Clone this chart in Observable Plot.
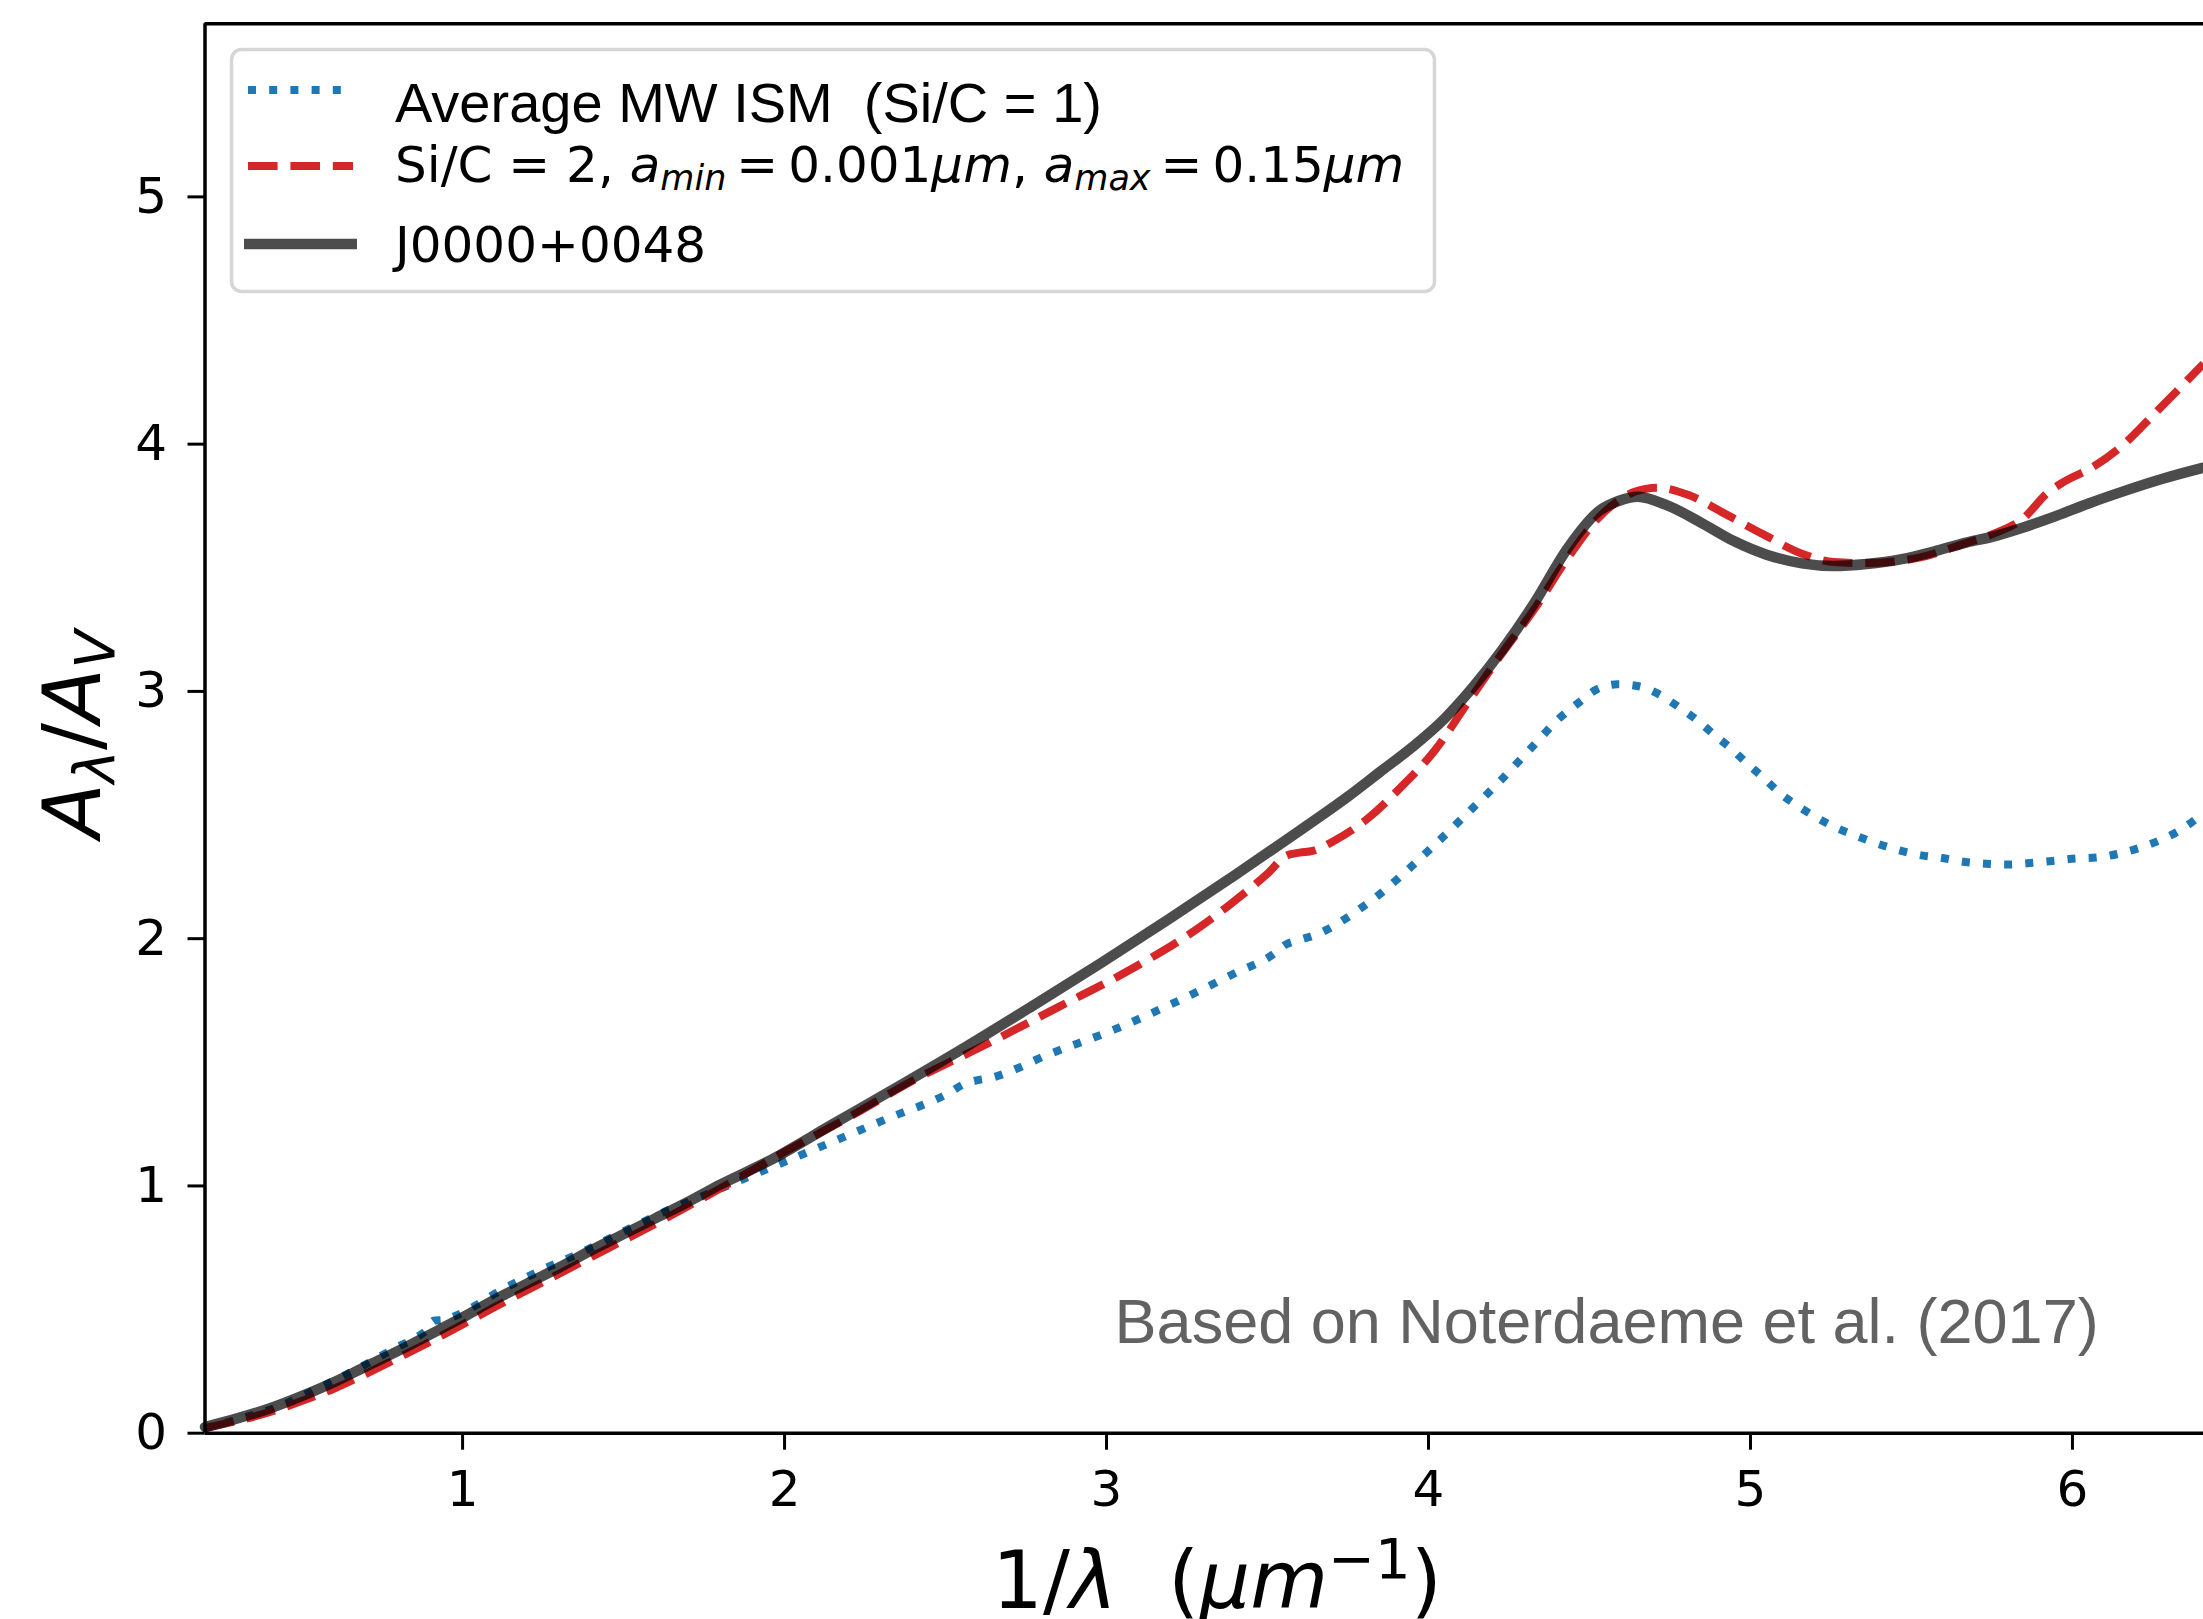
<!DOCTYPE html>
<html>
<head>
<meta charset="utf-8">
<script src="https://cdn.jsdelivr.net/npm/d3@7"></script>
<script src="https://cdn.jsdelivr.net/npm/@observablehq/plot@0.6"></script>
<style>
  html, body { margin: 0; padding: 0; background: #ffffff; }
  svg { display: block; }
</style>
</head>
<body>
<div id="chart"></div>
<script>
// ---- Data ----
// Average MW ISM (Si/C = 1)
const mwX = [0.2, 0.3, 0.424, 0.549, 0.673, 0.797, 0.86, 0.89, 0.91, 0.94, 0.97, 1.004, 1.118, 1.242, 1.377, 1.496, 1.62, 1.739, 1.874, 2.122, 2.319, 2.516, 2.555, 2.59, 2.64, 2.826, 3.023, 3.209, 3.395, 3.52, 3.555, 3.6, 3.644, 3.809, 4.017, 4.12, 4.224, 4.327, 4.405, 4.463, 4.521, 4.586, 4.653, 4.718, 4.777, 4.832, 4.886, 4.938, 4.99, 5.041, 5.091, 5.149, 5.207, 5.269, 5.33, 5.395, 5.463, 5.531, 5.596, 5.667, 5.731, 5.802, 5.867, 5.938, 6.009, 6.074, 6.145, 6.21, 6.275, 6.337, 6.391, 6.407];
const mwY = [0.02, 0.055, 0.105, 0.18, 0.26, 0.348, 0.39, 0.42, 0.455, 0.458, 0.47, 0.49, 0.577, 0.658, 0.736, 0.813, 0.891, 0.955, 1.029, 1.164, 1.272, 1.38, 1.41, 1.425, 1.437, 1.535, 1.632, 1.74, 1.858, 1.939, 1.975, 1.995, 2.013, 2.141, 2.377, 2.506, 2.64, 2.782, 2.89, 2.951, 3.007, 3.029, 3.021, 2.987, 2.937, 2.886, 2.826, 2.771, 2.708, 2.65, 2.589, 2.535, 2.489, 2.447, 2.415, 2.384, 2.357, 2.337, 2.326, 2.31, 2.303, 2.3, 2.306, 2.314, 2.324, 2.328, 2.344, 2.368, 2.4, 2.441, 2.492, 2.51];

// Si/C = 2, a_min = 0.001um, a_max = 0.15um
const modX = [0.2, 0.3, 0.4, 0.5, 0.6, 0.7, 0.8, 0.9, 1.0, 1.1, 1.2, 1.3, 1.4, 1.5, 1.6, 1.7, 1.8, 1.98, 2.2, 2.41, 2.63, 2.85, 3.08, 3.29, 3.4, 3.5, 3.56, 3.6, 3.64, 3.71, 3.81, 3.91, 4.02, 4.12, 4.22, 4.33, 4.43, 4.53, 4.64, 4.71, 4.81, 4.93, 5.04, 5.16, 5.26, 5.36, 5.52, 5.67, 5.75, 5.85, 5.92, 5.97, 6.06, 6.16, 6.26, 6.407];
const modY = [0.02, 0.05, 0.085, 0.13, 0.18, 0.24, 0.305, 0.37, 0.44, 0.51, 0.578, 0.645, 0.713, 0.78, 0.848, 0.918, 0.99, 1.123, 1.278, 1.434, 1.575, 1.723, 1.879, 2.047, 2.155, 2.263, 2.337, 2.348, 2.355, 2.398, 2.485, 2.607, 2.762, 2.951, 3.139, 3.335, 3.535, 3.705, 3.807, 3.824, 3.793, 3.712, 3.635, 3.557, 3.523, 3.519, 3.54, 3.6, 3.635, 3.703, 3.8, 3.845, 3.905, 4.0, 4.13, 4.325];

// J0000+0048
const qsoX = [0.2, 0.3, 0.4, 0.5, 0.6, 0.7, 0.8, 0.9, 1.0, 1.1, 1.2, 1.3, 1.4, 1.5, 1.6, 1.7, 1.8, 1.95, 2.15, 2.36, 2.57, 2.77, 2.98, 3.19, 3.4, 3.6, 3.75, 3.85, 3.95, 4.05, 4.14, 4.23, 4.33, 4.43, 4.53, 4.59, 4.65, 4.74, 4.85, 4.95, 5.05, 5.16, 5.26, 5.36, 5.47, 5.57, 5.67, 5.75, 5.84, 5.95, 6.05, 6.16, 6.28, 6.407];
const qsoY = [0.025, 0.06, 0.1, 0.15, 0.206, 0.27, 0.333, 0.4, 0.468, 0.54, 0.605, 0.67, 0.74, 0.805, 0.87, 0.935, 1.005, 1.1, 1.25, 1.407, 1.568, 1.728, 1.899, 2.076, 2.258, 2.437, 2.575, 2.675, 2.775, 2.89, 3.02, 3.17, 3.36, 3.575, 3.73, 3.77, 3.787, 3.753, 3.68, 3.607, 3.553, 3.518, 3.507, 3.515, 3.535, 3.566, 3.602, 3.625, 3.66, 3.71, 3.76, 3.81, 3.86, 3.905];

const xTicks = [1, 2, 3, 4, 5, 6];
const yTicks = [0, 1, 2, 3, 4, 5];
const xDomain = [0.2, 6.407];
const yDomain = [0, 5.7];

const seriesNames = ["Average MW ISM  (Si/C = 1)", "Si/C = 2", "J0000+0048"];
const noteText = "Based on Noterdaeme et al. (2017)";
const notePos = {x: 3.025, y: 0.363};

// ---- Build tables ----
const toRows = (xs, ys) => xs.map((x, i) => ({x, y: ys[i]}));
const mw = toRows(mwX, mwY);
const mod = toRows(modX, modY);
const qso = toRows(qsoX, qsoY);

const W = 2203, H = 1619;
const mL = 204.5, mT = 23.3, mB = H - 1432.7, mR = 0;

const chart = Plot.plot({
  width: W,
  height: H,
  marginLeft: mL,
  marginRight: mR,
  marginTop: mT,
  marginBottom: mB,
  x: {domain: xDomain},
  y: {domain: yDomain},
  style: {fontFamily: "DejaVu Sans", background: "#ffffff", color: "#000000", overflow: "visible"},
  marks: [
    Plot.line(mw, {x: "x", y: "y", stroke: "#1f77b4", strokeWidth: 8, strokeDasharray: "8 13.2", strokeLinecap: "butt", curve: "monotone-x"}),
    Plot.line(mod, {x: "x", y: "y", stroke: "#d62728", strokeWidth: 8, strokeDasharray: "29.6 12.8", strokeLinecap: "butt", curve: "monotone-x"}),
    Plot.line(qso, {x: "x", y: "y", stroke: "#000000", strokeOpacity: 0.7, strokeWidth: 10.5, curve: "monotone-x"}),
    Plot.ruleY([yDomain[0]], {stroke: "#000", strokeWidth: 3.5}),
    Plot.ruleY([yDomain[1]], {stroke: "#000", strokeWidth: 3.5}),
    Plot.ruleX([xDomain[0]], {stroke: "#000", strokeWidth: 3.5}),
    Plot.axisX({ticks: xTicks, tickSize: 17, tickPadding: 20, fontSize: 50, strokeWidth: 3, label: null, tickFormat: d => String(d)}),
    Plot.axisY({ticks: yTicks, tickSize: 17, tickPadding: 21, fontSize: 50, strokeWidth: 3, label: null, tickFormat: d => String(d)}),
    Plot.text([notePos], {x: "x", y: "y", text: () => noteText, textAnchor: "start", lineAnchor: "bottom", fontSize: 63, fill: "#626262", fontFamily: "Liberation Sans, Arial, sans-serif"})
  ]
});

document.getElementById("chart").appendChild(chart);

const svg = d3.select(chart);

// ---- Axis labels (math-like text) ----
const xl = svg.append("text")
  .attr("x", 992).attr("y", 1608)
  .attr("text-anchor", "start")
  .attr("font-family", "DejaVu Sans").attr("font-size", 80).attr("fill", "#000")
  .attr("xml:space", "preserve");
xl.append("tspan").text("1/");
xl.append("tspan").attr("font-style", "italic").text("λ");
xl.append("tspan").text("\u00a0\u00a0(");
xl.append("tspan").attr("font-style", "italic").text("μm");
xl.append("tspan").attr("font-size", 56).attr("dy", -30).text("−1");
xl.append("tspan").attr("dy", 30).text(")");

const yl = svg.append("text")
  .attr("transform", "translate(100,734) rotate(-90)")
  .attr("text-anchor", "middle")
  .attr("font-family", "DejaVu Sans").attr("font-size", 80).attr("fill", "#000");
yl.append("tspan").attr("font-style", "italic").text("A");
yl.append("tspan").attr("font-style", "italic").attr("font-size", 56).attr("dy", 14).text("λ");
yl.append("tspan").attr("dy", -14).text("/");
yl.append("tspan").attr("font-style", "italic").text("A");
yl.append("tspan").attr("font-style", "italic").attr("font-size", 56).attr("dy", 14).text("V");

// ---- Legend ----
const lg = svg.append("g").attr("text-anchor", "start");
lg.append("rect")
  .attr("x", 231.5).attr("y", 49.5).attr("width", 1203).attr("height", 242)
  .attr("rx", 10).attr("ry", 10)
  .attr("fill", "#ffffff").attr("fill-opacity", 0.8)
  .attr("stroke", "#d6d6d6").attr("stroke-width", 3.5);

const hx0 = 248, hx1 = 353, tx = 395;
lg.append("line").attr("x1", hx0).attr("x2", hx1).attr("y1", 90).attr("y2", 90)
  .attr("stroke", "#1f77b4").attr("stroke-width", 8).attr("stroke-dasharray", "8 13.2");
lg.append("line").attr("x1", hx0).attr("x2", hx1).attr("y1", 166).attr("y2", 166)
  .attr("stroke", "#d62728").attr("stroke-width", 8).attr("stroke-dasharray", "29.6 12.8");
lg.append("line").attr("x1", hx0 - 4).attr("x2", hx1 + 4).attr("y1", 244).attr("y2", 244)
  .attr("stroke", "#000").attr("stroke-opacity", 0.7).attr("stroke-width", 10.5);

lg.append("text").attr("x", tx).attr("y", 122)
  .attr("text-anchor", "start")
  .attr("font-family", "Liberation Sans, Arial, sans-serif").attr("font-size", 56).attr("fill", "#000")
  .attr("xml:space", "preserve")
  .text(seriesNames[0].replace(/  /g, "\u00a0 "));

const t2 = lg.append("text").attr("x", tx).attr("y", 182)
  .attr("text-anchor", "start")
  .attr("font-family", "DejaVu Sans").attr("font-size", 50).attr("fill", "#000")
  .attr("xml:space", "preserve");
t2.append("tspan").text(seriesNames[1] + ", ");
t2.append("tspan").attr("font-style", "italic").text("a");
t2.append("tspan").attr("font-style", "italic").attr("font-size", 35).attr("dy", 8).text("min");
t2.append("tspan").attr("dy", -8).text("\u2009=\u20090.001");
t2.append("tspan").attr("font-style", "italic").text("μm");
t2.append("tspan").text(", ");
t2.append("tspan").attr("font-style", "italic").text("a");
t2.append("tspan").attr("font-style", "italic").attr("font-size", 35).attr("dy", 8).text("max");
t2.append("tspan").attr("dy", -8).text("\u2009=\u20090.15");
t2.append("tspan").attr("font-style", "italic").text("μm");

lg.append("text").attr("x", tx).attr("y", 262)
  .attr("text-anchor", "start")
  .attr("font-family", "DejaVu Sans").attr("font-size", 50).attr("fill", "#000")
  .text(seriesNames[2]);
</script>
</body>
</html>
